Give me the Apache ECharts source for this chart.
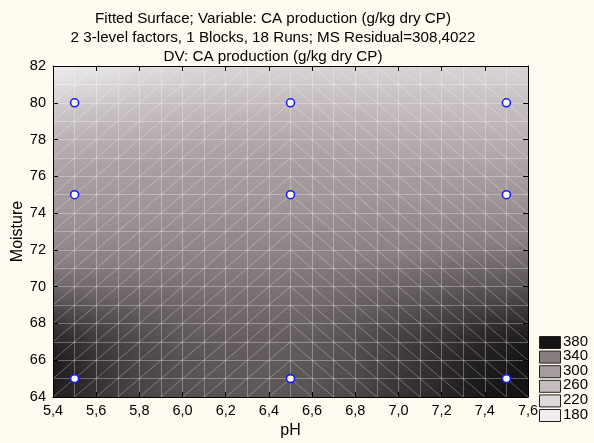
<!DOCTYPE html>
<html>
<head>
<meta charset="utf-8">
<script src="https://cdn.jsdelivr.net/npm/echarts@6/dist/echarts.min.js"></script>
<style>
html,body{margin:0;padding:0;background:#fffbf0;}
#chart{width:594px;height:443px;}
</style>
</head>
<body>
<div id="chart"></div>
<script>
// ---------- data ----------
const titleLines = [
  'Fitted Surface; Variable: CA production (g/kg dry CP)',
  '2 3-level factors, 1 Blocks, 18 Runs; MS Residual=308,4022',
  'DV: CA production (g/kg dry CP)'
];
const phValues = [5.4, 5.6, 5.8, 6.0, 6.2, 6.4, 6.6, 6.8, 7.0, 7.2, 7.4, 7.6];
const moistureValues = [64, 65, 66, 67, 68, 69, 70, 71, 72, 73, 74, 75, 76, 77, 78, 79, 80, 81, 82];
// fitted CA production, one row per moisture level, columns = phValues
const surfaceRows = [
  [376, 368, 362, 358, 356, 355, 357, 361, 368, 373, 379, 383], // 64
  [377, 369, 362, 357, 355, 354, 356, 360, 367, 372, 378, 382], // 65
  [377, 368, 361, 357, 354, 353, 355, 359, 365, 371, 376, 380], // 66
  [374, 366, 360, 355, 353, 352, 354, 358, 364, 369, 374, 378], // 67
  [367, 361, 356, 352, 350, 350, 351, 355, 360, 364, 369, 372], // 68
  [358, 354, 351, 349, 347, 347, 348, 351, 355, 359, 362, 365], // 69
  [349, 347, 346, 345, 344, 344, 345, 347, 350, 353, 355, 357], // 70
  [342, 342, 341, 341, 341, 341, 342, 343, 345, 347, 349, 350], // 71
  [330, 331, 331, 332, 332, 332, 333, 335, 337, 340, 342, 344], // 72
  [319, 321, 322, 323, 324, 324, 325, 326, 328, 329, 331, 332], // 73
  [310, 312, 313, 314, 315, 315, 315, 316, 318, 319, 320, 321], // 74
  [304, 306, 307, 308, 309, 309, 309, 309, 309, 310, 310, 310], // 75
  [297, 300, 302, 303, 304, 304, 304, 303, 302, 301, 301, 300], // 76
  [287, 291, 294, 296, 297, 297, 296, 295, 293, 291, 289, 288], // 77
  [272, 277, 282, 285, 287, 287, 286, 284, 282, 280, 278, 276], // 78
  [254, 261, 266, 270, 272, 273, 272, 271, 269, 267, 265, 264], // 79
  [233, 242, 249, 254, 257, 258, 258, 257, 255, 254, 253, 252], // 80
  [209, 221, 230, 237, 241, 242, 242, 241, 241, 240, 239, 239], // 81
  [180, 197, 210, 219, 225, 226, 226, 226, 226, 226, 226, 226]  // 82
];
// surface wireframe grid
const meshPH = [5.4, 5.5, 5.6, 5.7, 5.8, 5.9, 6.0, 6.1, 6.2, 6.3, 6.4, 6.5, 6.6, 6.7, 6.8, 6.9, 7.0, 7.1, 7.2, 7.3, 7.4, 7.5, 7.6];
const meshSplitPH = 6.5;
// design points (runs)
const runPH = [5.5, 6.5, 7.5];
const runMoisture = [65, 75, 80];
// legend levels
const legendLevels = [380, 340, 300, 260, 220, 180];

// ---------- styles ----------
const FONT = '"Liberation Sans", Arial, Helvetica, sans-serif';
const legendColors = ['#151313', '#877d7f', '#a69c9e', '#c4bcbe', '#dedadb', '#efedee'];
const shadeLevels = [180, 220, 260, 300, 340, 380];
const shadeColors = ['#efedee', '#dcd8d9', '#c3bbbd', '#a89ea0', '#887e80', '#151313'];
const meshColor = 'rgba(255,255,255,0.30)';

function hexToRgb(h) {
  return [parseInt(h.slice(1, 3), 16), parseInt(h.slice(3, 5), 16), parseInt(h.slice(5, 7), 16)];
}
const shadeRgb = shadeColors.map(hexToRgb);
function colorAt(v) {
  const n = shadeLevels.length;
  if (v <= shadeLevels[0]) return shadeColors[0];
  if (v >= shadeLevels[n - 1]) return shadeColors[n - 1];
  let k = 0;
  while (v > shadeLevels[k + 1]) k++;
  const f = (v - shadeLevels[k]) / (shadeLevels[k + 1] - shadeLevels[k]);
  const a = shadeRgb[k], b = shadeRgb[k + 1];
  const c = a.map((x, q) => Math.round(x + (b[q] - x) * f));
  return 'rgb(' + c.join(',') + ')';
}

// ---------- build series data ----------
const surfaceData = [];
moistureValues.forEach((m, j) => {
  phValues.forEach((p, i) => {
    surfaceData.push([p, m, surfaceRows[j][i], i, j]);
  });
});
const meshData = [];
moistureValues.forEach((m, j) => {
  meshPH.forEach((p, k) => { meshData.push([p, m, k, j]); });
});
const runData = [];
runMoisture.forEach(m => runPH.forEach(p => runData.push([p, m])));

function triangle(P, V) {
  const d1x = P[1][0] - P[0][0], d1y = P[1][1] - P[0][1];
  const d2x = P[2][0] - P[0][0], d2y = P[2][1] - P[0][1];
  const dv1 = V[1] - V[0], dv2 = V[2] - V[0];
  const det = d1x * d2y - d1y * d2x;
  const vmin = Math.min(V[0], V[1], V[2]), vmax = Math.max(V[0], V[1], V[2]);
  let fill;
  if (Math.abs(det) < 1e-9 || vmax - vmin < 1e-6) {
    fill = colorAt((vmin + vmax) / 2);
  } else {
    const ax = (dv1 * d2y - d1y * dv2) / det;
    const ay = (d1x * dv2 - d2x * dv1) / det;
    const g2 = ax * ax + ay * ay;
    const kmin = V.indexOf(vmin);
    const s = P[kmin];
    const t = (vmax - vmin) / g2;
    const stops = [];
    for (let n = 0; n <= 4; n++) {
      const f = n / 4;
      stops.push({ offset: f, color: colorAt(vmin + f * (vmax - vmin)) });
    }
    fill = new echarts.graphic.LinearGradient(s[0], s[1], s[0] + ax * t, s[1] + ay * t, stops, true);
  }
  return { type: 'polygon', shape: { points: P }, style: { fill: fill, stroke: fill, lineWidth: 0.8 } };
}

function renderSurface(params, api) {
  const i = api.value(3), j = api.value(4);
  if (i >= phValues.length - 1 || j >= moistureValues.length - 1) return null;
  const x0 = phValues[i], x1 = phValues[i + 1], y0 = moistureValues[j], y1 = moistureValues[j + 1];
  const p00 = api.coord([x0, y0]), p10 = api.coord([x1, y0]);
  const p01 = api.coord([x0, y1]), p11 = api.coord([x1, y1]);
  const v00 = surfaceRows[j][i], v10 = surfaceRows[j][i + 1];
  const v01 = surfaceRows[j + 1][i], v11 = surfaceRows[j + 1][i + 1];
  let children;
  if ((x0 + x1) / 2 < meshSplitPH) {
    children = [triangle([p00, p10, p11], [v00, v10, v11]), triangle([p00, p11, p01], [v00, v11, v01])];
  } else {
    children = [triangle([p00, p10, p01], [v00, v10, v01]), triangle([p10, p11, p01], [v10, v11, v01])];
  }
  return { type: 'group', children: children };
}

function renderMesh(params, api) {
  const k = api.value(2), j = api.value(3);
  if (k >= meshPH.length - 1 || j >= moistureValues.length - 1) return null;
  const a = meshPH[k], b = meshPH[k + 1], y0 = moistureValues[j], y1 = moistureValues[j + 1];
  let s, e;
  if ((a + b) / 2 < meshSplitPH) { s = api.coord([a, y0]); e = api.coord([b, y1]); }
  else { s = api.coord([a, y1]); e = api.coord([b, y0]); }
  return { type: 'line', shape: { x1: s[0], y1: s[1], x2: e[0], y2: e[1] }, style: { stroke: meshColor, lineWidth: 1 } };
}

const chart = echarts.init(document.getElementById('chart'), null, { renderer: 'canvas' });

const legendGraphics = [];
legendLevels.forEach((lv, k) => {
  const top = 336 + k * 14.6;
  legendGraphics.push({ type: 'rect', left: 539, top: top, shape: { width: 21, height: 12 },
    style: { fill: legendColors[k], stroke: '#222', lineWidth: 1 } });
  legendGraphics.push({ type: 'text', left: 563, top: top - 2,
    style: { text: String(lv), fontSize: 15, fill: '#000', fontFamily: FONT } });
});

const axisCommon = {
  type: 'value', z: 10,
  axisLine: { show: true, lineStyle: { color: '#000', width: 1 } },
  axisTick: { show: true, inside: true, length: 5, lineStyle: { color: '#000', width: 1 } }
};

const option = {
  backgroundColor: '#fffbf0',
  animation: false,
  textStyle: { fontFamily: FONT },
  title: {
    text: titleLines.join('\n'), left: 268, top: 4, textAlign: 'center',
    textStyle: { fontSize: 15.2, fontWeight: 'normal', lineHeight: 19, color: '#000', fontFamily: FONT }
  },
  grid: { left: 53, top: 66, right: 66, bottom: 46, containLabel: false, outerBoundsMode: 'none' },
  xAxis: [
    Object.assign({}, axisCommon, {
      min: 5.4, max: 7.6, interval: 0.2, position: 'bottom',
      name: 'pH', nameLocation: 'middle', nameGap: 26, nameMoveOverlap: false,
      nameTextStyle: { fontSize: 16, color: '#000', fontFamily: FONT },
      axisLabel: { fontSize: 14.5, color: '#000', margin: 6, fontFamily: FONT,
        formatter: v => v.toFixed(1).replace('.', ',') },
      splitLine: { show: true, lineStyle: { color: meshColor, width: 1 } },
      minorTick: { show: false, splitNumber: 2 },
      minorSplitLine: { show: true, lineStyle: { color: meshColor, width: 1 } }
    }),
    Object.assign({}, axisCommon, {
      min: 5.4, max: 7.6, interval: 0.2, position: 'top',
      axisLabel: { show: false }, splitLine: { show: false }
    })
  ],
  yAxis: [
    Object.assign({}, axisCommon, {
      min: 64, max: 82, interval: 2, position: 'left',
      name: 'Moisture', nameLocation: 'middle', nameGap: 27, nameMoveOverlap: false,
      nameTextStyle: { fontSize: 16, color: '#000', fontFamily: FONT },
      axisLabel: { fontSize: 14.5, color: '#000', margin: 7, fontFamily: FONT },
      splitLine: { show: true, lineStyle: { color: meshColor, width: 1 } },
      minorTick: { show: false, splitNumber: 2 },
      minorSplitLine: { show: true, lineStyle: { color: meshColor, width: 1 } }
    }),
    Object.assign({}, axisCommon, {
      min: 64, max: 82, interval: 2, position: 'right',
      axisLabel: { show: false }, splitLine: { show: false }
    })
  ],
  series: [
    { type: 'custom', name: 'surface', xAxisIndex: 0, yAxisIndex: 0, z: 2, clip: true,
      renderItem: renderSurface, data: surfaceData, encode: { x: 0, y: 1 }, silent: true },
    { type: 'custom', name: 'mesh', xAxisIndex: 0, yAxisIndex: 0, z: 3, clip: true,
      renderItem: renderMesh, data: meshData, encode: { x: 0, y: 1 }, silent: true },
    { type: 'scatter', name: 'runs', xAxisIndex: 0, yAxisIndex: 0, z: 20,
      data: runData, symbol: 'circle', symbolSize: 8,
      itemStyle: { color: '#ffffff', borderColor: '#1a1aff', borderWidth: 1.6, opacity: 1 } }
  ],
  graphic: legendGraphics
};
chart.setOption(option);
</script>
</body>
</html>
